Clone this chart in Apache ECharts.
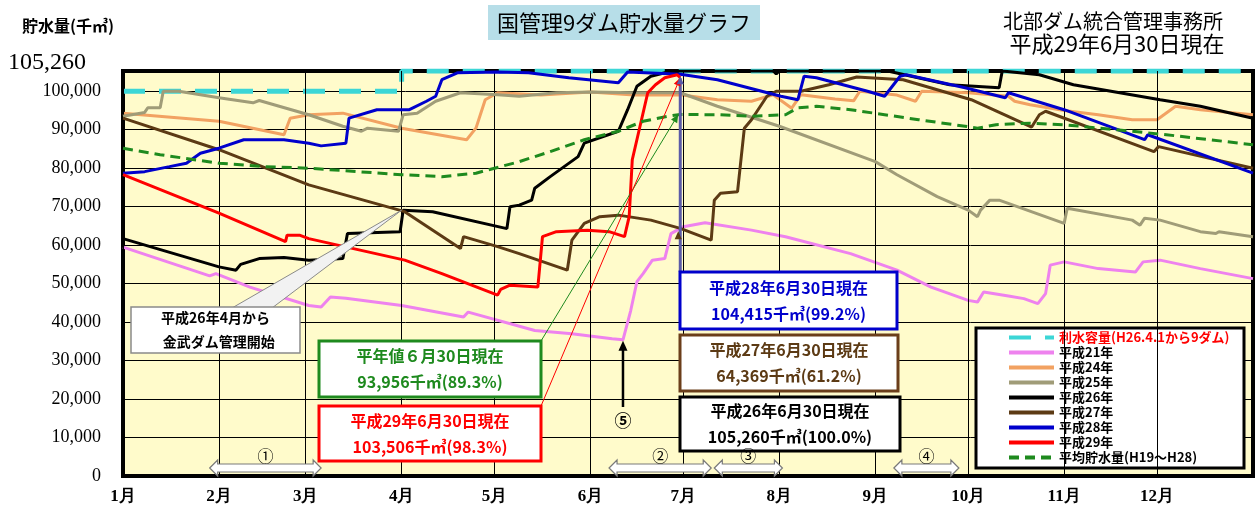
<!DOCTYPE html>
<html><head><meta charset="utf-8">
<script src="https://cdn.jsdelivr.net/npm/echarts@6/dist/echarts.min.js"></script>
<style>html,body{margin:0;padding:0;background:#fff}#c{width:1255px;height:514px}</style>
</head><body><div id="c"></div>
<script>
// ---- data (x = day of year, 0 = Jan 1; y = 千㎥) ----
const monthLabels = ['1月','2月','3月','4月','5月','6月','7月','8月','9月','10月','11月','12月'];
const monthStartDays = [0,31,59,90,120,151,181,212,243,273,304,334];
const yMax = 105260;
const yTickStep = 10000;

const capacity = [[0,100000],[90,100000],[90,105260],[365,105260]];
const h21 = [[0,59500],[28,52000],[30,52600],[41,49100],[60,44300],[64,43900],[67,46500],[72,46200],[90,44300],[110,41300],[111.5,42600],[133,37800],[145,37000],[158,35650],[161.5,35400],[164,43000],[166,50500],[168,52600],[171,56100],[175,56500],[177,63000],[181,64800],[188,65800],[203,63900],[214,62200],[235,57800],[250,53500],[261,49100],[273,45650],[276,45200],[278,47800],[286,46800],[291,46100],[295.5,44800],[298,47400],[299.5,54800],[304,55650],[315,53900],[327,53000],[329.5,55650],[335,56100],[348,53900],[365,51300]];
const h24 = [[0,94300],[31,92200],[52,88700],[54,93000],[60,93900],[71,94300],[90,90400],[111,87400],[114,90400],[117,97800],[121,99600],[135,99000],[151,99800],[165,99000],[180,99100],[192,97800],[203,97400],[210,99100],[216,95600],[219,99100],[230,98000],[236,97500],[238,100000],[250,99000],[256,97400],[258,100000],[273,99600],[286,98700],[288,97400],[293,96500],[304,95000],[315,93900],[326,92600],[334,92600],[340,96100],[348,95200],[365,93900]];
const h25 = [[0,93500],[7,94500],[8,95700],[12,95700],[13,100000],[18,100000],[31,98300],[42,97000],[44,97600],[60,93900],[71,90900],[77,89600],[79,90400],[89,89600],[90.5,93900],[95,94300],[101,97400],[109,99600],[121,99100],[128,98700],[140,99600],[151,99800],[165,99600],[180,99600],[192,96100],[212,90900],[243,81700],[250,78300],[263,72600],[273,69100],[276,67400],[277,69100],[280,71700],[283,71700],[304,65650],[305,69600],[326,66500],[328.5,65200],[330,67000],[335,66500],[348,63500],[353,63000],[354,63500],[365,62200]];
const h26 = [[0,61700],[31,54350],[36.5,53500],[38,55000],[44,56500],[52,56800],[60,56100],[71,56500],[72.5,63000],[89.5,63500],[90.5,69100],[100,68700],[124,64300],[125,70000],[128,70400],[132,71700],[133,74800],[138,77800],[147,83000],[149,86500],[160,89600],[163,95200],[166,101300],[170.5,103900],[176,105000],[180,105260],[210,105260],[211,104500],[212,105260],[247,105260],[267,101700],[283,100900],[284,105260],[296,104300],[307,101700],[335,97800],[348,96100],[365,93000]];
const h27 = [[0,93000],[31,84800],[60,75650],[91,68700],[109,59100],[110,62200],[121,59600],[128,57800],[143.5,53500],[145,61300],[149,65650],[154,67400],[160,67800],[170.5,66500],[180,64369],[190,61300],[191,71700],[193,73500],[198.5,73900],[200.7,90400],[203,92600],[208,98700],[211,100000],[219,100000],[228,101700],[237,103700],[252,103000],[274,97800],[293.5,90700],[296,93900],[298,94800],[333,84300],[334.5,85600],[365,80000]];
const h28 = [[0,78700],[7,79100],[15,80400],[20.5,81300],[25,83900],[31,85200],[39,87400],[52,87400],[60,86500],[64,85800],[72,86500],[73,93000],[82,95200],[92.5,95200],[98,97400],[101,98700],[103,103000],[108,104800],[121,105000],[131,104800],[144,103500],[160,102200],[163,105000],[180,104415],[192,103000],[212.5,98700],[218,97800],[220,103900],[224,103500],[240.5,100000],[246,98700],[251,103900],[253,104300],[272,100900],[285,98300],[286,99600],[304,95200],[330,87400],[331,88700],[365,78700]];
const h29 = [[0,78300],[31,68300],[52.5,60900],[53,62600],[57,62600],[60,61700],[91,56100],[103,52600],[121,47000],[122,48500],[125,49600],[134,49100],[135.5,62200],[140,63500],[150,63900],[157,63500],[162,62200],[163.5,67400],[164.5,82200],[167,90900],[169.5,99600],[172,101700],[175,103500],[179,104300],[180,103506]];
const avg = [[0,85200],[12,83500],[31,81300],[46,80400],[60,80000],[90,78300],[103,77800],[114,78700],[128,81700],[138,84300],[149,87400],[160,89600],[168,92200],[176,93500],[180,93956],[192,93900],[203,93500],[214,93900],[218,95700],[224,96100],[235,95200],[246,93900],[257,92600],[272,90900],[276,90400],[282,91300],[293,91700],[304,91300],[326,89600],[337,88700],[365,86100]];

const periodDays = [[28,64],[157,190],[191,213],[249,270]];
const periodLabels = ['①','②','③','④'];

const seriesNames = ['利水容量(H26.4.1から9ダム)','平成21年','平成24年','平成25年','平成26年','平成27年','平成28年','平成29年','平均貯水量(H19～H28)'];
const seriesData = [capacity,h21,h24,h25,h26,h27,h28,h29,avg];
const seriesColors = ['#3CD6D6','#EE82EE','#F2A262','#A09C78','#000000','#5C3A14','#0000CC','#FF0000','#1E8A1E'];
const seriesWidths = [5,3,3,3,3,3,3,3,3];
const seriesDash = [[22,14],null,null,null,null,null,null,null,[10,6]];

const JP = '"Noto Sans CJK JP", sans-serif';
const SERIF = '"Liberation Serif","DejaVu Serif", serif';

const chart = echarts.init(document.getElementById('c'), null, {renderer:'canvas'});

const series = [{
  type:'line', name:'_grid', data:[], z:1, silent:true, symbol:'none',
  markLine:{
    silent:true, symbol:['none','none'], animation:false,
    lineStyle:{color:'#000', width:1, type:'solid'},
    label:{show:true, position:'start', formatter:p=>p.name, fontSize:17, fontWeight:'bold', color:'#000', fontFamily:SERIF, distance:12},
    emphasis:{disabled:true},
    data: monthStartDays.map((d,i)=>({xAxis:d, name:monthLabels[i]}))
  }
}];
seriesNames.forEach((n,i)=>{
  series.push({
    type:'line', name:n, data:seriesData[i], showSymbol:false, symbol:'none', z:2+i,
    lineStyle:{color:seriesColors[i], width:seriesWidths[i], type: seriesDash[i] ? seriesDash[i] : 'solid'},
    itemStyle:{color:seriesColors[i]},
    emphasis:{disabled:true}, animation:false
  });
});

chart.setOption({
  animation:false,
  grid:{left:123, right:2, top:71, bottom:38, show:true, backgroundColor:'#FFFBCB', borderColor:'#000', borderWidth:4},
  xAxis:{type:'value', min:0, max:365, axisLine:{show:false}, axisTick:{show:false}, axisLabel:{show:false}, splitLine:{show:false}},
  yAxis:{type:'value', min:0, max:yMax, interval:yTickStep,
    axisLine:{show:false}, axisTick:{show:false},
    axisLabel:{showMaxLabel:false, margin:22, fontSize:18, color:'#000', fontFamily:SERIF,
      formatter:v=>v.toLocaleString('en-US')},
    splitLine:{show:true, lineStyle:{color:'#000', width:1}}},
  legend:{
    orient:'vertical', left:1002, top:325, itemWidth:45, itemHeight:12, itemGap:0,
    itemStyle:{opacity:0},
    lineStyle:{width:4},
    data: seriesNames.map((n,i)=>({name:n, textStyle:{color: i===0 ? '#FF0000' : '#000'}})),
    textStyle:{fontSize:13, fontWeight:'bold', fontFamily:JP, lineHeight:15, padding:[0,0,0,0]},
    selectedMode:false
  },
  series: series
});

const P = (d,v)=>chart.convertToPixel({xAxisIndex:0,yAxisIndex:0},[d,v]);

function arrowHead(x1,y1,x2,y2,s,color){
  const a=Math.atan2(y2-y1,x2-x1), c=Math.cos(a), sn=Math.sin(a);
  return {type:'polygon', z:120, silent:true, shape:{points:[[x2,y2],[x2-s*c+s*0.45*sn, y2-s*sn-s*0.45*c],[x2-s*c-s*0.45*sn, y2-s*sn+s*0.45*c]]}, style:{fill:color}};
}
function box(x,y,w,h,stroke,lw,lines,color,fs){
  return [
    {type:'rect', z:110, silent:true, shape:{x:x,y:y,width:w,height:h}, style:{fill:'#fff', stroke:stroke, lineWidth:lw}},
    {type:'text', z:111, silent:true, style:{x:x+w/2, y:y+h/2, text:lines, align:'center', verticalAlign:'middle', fill:color, font:'bold '+fs+'px '+JP, lineHeight:fs+10}}
  ];
}

const g = [];
// headers
g.push({type:'rect', z:110, shape:{x:488,y:5,width:272,height:35}, style:{fill:'#B7DEE8'}});
g.push({type:'text', z:111, style:{x:624, y:23, text:'国管理9ダム貯水量グラフ', align:'center', verticalAlign:'middle', font:'22px '+JP, fill:'#000'}});
g.push({type:'text', z:111, style:{x:1113, y:21, text:'北部ダム統合管理事務所', align:'center', verticalAlign:'middle', font:'20px '+JP, fill:'#000'}});
g.push({type:'text', z:111, style:{x:1117, y:44, text:'平成29年6月30日現在', align:'center', verticalAlign:'middle', font:'22px '+JP, fill:'#000'}});
g.push({type:'text', z:111, style:{x:22, y:26, text:'貯水量(千㎥)', align:'left', verticalAlign:'middle', font:'bold 16px '+JP, fill:'#000'}});
g.push({type:'text', z:111, style:{x:8, y:63, text:yMax.toLocaleString('en-US'), align:'left', verticalAlign:'middle', font:'24px '+SERIF, fill:'#000'}});

// legend frame
g.push({type:'rect', z:0, silent:true, shape:{x:976,y:328,width:268,height:140}, style:{fill:'#fff', stroke:'#000', lineWidth:3}});

// callout for 金武ダム
const tip = P(90, 69100);
g.push({type:'polygon', z:109, silent:true, shape:{points:[[232,308],[272,308],tip]}, style:{fill:'#F2F2F2', stroke:'#8A8A8A', lineWidth:1}});
g.push(...box(131,307,169,46,'#8A8A8A',1.5,'平成26年4月から\n  金武ダム管理開始','#000',14));

// connector lines
const gEnd = P(180, 93956), rEnd = P(180, 103506), bEnd = P(180, 104415), brEnd = P(180, 64369);
g.push({type:'line', z:108, silent:true, shape:{x1:541,y1:341,x2:gEnd[0]-2,y2:gEnd[1]}, style:{stroke:'#1E8A1E', lineWidth:1}});
g.push(arrowHead(541,341,gEnd[0]-2,gEnd[1],8,'#1E8A1E'));
g.push({type:'line', z:108, silent:true, shape:{x1:541,y1:406,x2:rEnd[0],y2:rEnd[1]}, style:{stroke:'#FF0000', lineWidth:1}});
g.push(arrowHead(541,406,rEnd[0],rEnd[1],8,'#FF0000'));
g.push({type:'line', z:108, silent:true, shape:{x1:bEnd[0],y1:272,x2:bEnd[0],y2:bEnd[1]+4}, style:{stroke:'#5A5AA8', lineWidth:3}});
g.push(arrowHead(bEnd[0],272,bEnd[0],bEnd[1]+2,8,'#5A5AA8'));
g.push(arrowHead(brEnd[0]-2,272,brEnd[0]-2,brEnd[1]+3,8,'#5C3A14'));

// boxes
g.push(...box(319,341,222,56,'#1E8A1E',3,'平年値６月30日現在\n93,956千㎥(89.3%)','#1E8A1E',16));
g.push(...box(319,406,222,55,'#FF0000',3,'平成29年6月30日現在\n103,506千㎥(98.3%)','#FF0000',16));
g.push(...box(680,272,217,57,'#0000CC',3,'平成28年6月30日現在\n104,415千㎥(99.2%)','#0000CC',16));
g.push(...box(680,335,218,56,'#6B3E1A',3,'平成27年6月30日現在\n64,369千㎥(61.2%)','#5C3A14',16));
g.push(...box(680,397,220,54,'#000',3,'平成26年6月30日現在\n105,260千㎥(100.0%)','#000',16));

// ⑤ arrow
const p5 = P(161.5, 35400);
g.push({type:'line', z:108, silent:true, shape:{x1:p5[0],y1:407,x2:p5[0],y2:p5[1]+6}, style:{stroke:'#000', lineWidth:2.5}});
g.push(arrowHead(p5[0],407,p5[0],p5[1]+1,10,'#000'));
g.push({type:'text', z:111, style:{x:p5[0], y:421, text:'⑤', align:'center', verticalAlign:'middle', font:'bold 17px '+JP, fill:'#000'}});

// period double arrows
periodDays.forEach((pd,i)=>{
  const a = P(pd[0],0)[0], b = P(pd[1],0)[0], yc = 468, hh=8, hw=4, hl=8;
  g.push({type:'polygon', z:108, silent:true, shape:{points:[[a,yc],[a+hl,yc-hh],[a+hl,yc-hw],[b-hl,yc-hw],[b-hl,yc-hh],[b,yc],[b-hl,yc+hh],[b-hl,yc+hw],[a+hl,yc+hw],[a+hl,yc+hh]]}, style:{fill:'#fff', stroke:'#7A7A7A', lineWidth:1.2}});
  g.push({type:'text', z:111, style:{x:(a+b)/2, y:456, text:periodLabels[i], align:'center', verticalAlign:'middle', font:'16px '+JP, fill:'#000'}});
});

chart.setOption({graphic:{elements:g}});
</script></body></html>
